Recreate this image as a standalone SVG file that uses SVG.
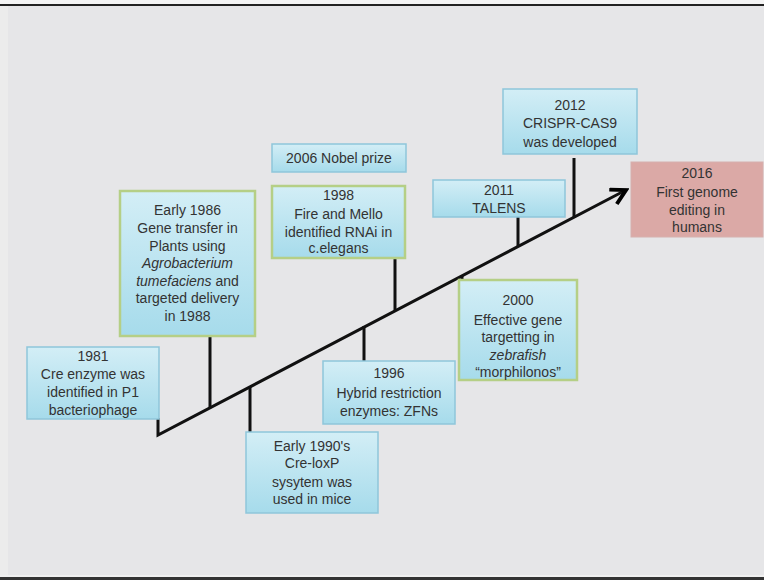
<svg xmlns="http://www.w3.org/2000/svg" width="764" height="580" viewBox="0 0 764 580">
<defs>
<linearGradient id="blue" x1="0" y1="0" x2="0" y2="1">
<stop offset="0" stop-color="#d3eef6"/>
<stop offset="1" stop-color="#a6dbeb"/>
</linearGradient>
<marker id="arr" viewBox="0 0 12 12" refX="10" refY="6" markerWidth="6.5" markerHeight="6.5" orient="auto" markerUnits="strokeWidth">
<path d="M1,1 L10,6 L1,11" fill="none" stroke="#000" stroke-width="2.4" stroke-linejoin="miter"/>
</marker>
</defs>
<style>
.box{fill:url(#blue);stroke:#8fc6da;stroke-width:1.5}
.gbox{fill:url(#blue);stroke:#b5cf86;stroke-width:2.5}
.pbox{fill:#dba9a6;stroke:#d6b0ae;stroke-width:1}
text{font-family:"Liberation Sans",Arial,sans-serif;font-size:14px;fill:#333;text-anchor:middle}
.it{font-style:italic}
.ln{stroke:#111;stroke-width:3;fill:none}
</style>
<rect x="0" y="0" width="764" height="580" fill="#e6e6e8"/>
<rect x="0" y="0" width="764" height="4" fill="#f4f4f4"/>
<rect x="0" y="4" width="764" height="2" fill="#222"/>
<rect x="0" y="6" width="8" height="570" fill="#ececec"/>
<rect x="0" y="575" width="764" height="2" fill="#f0f0f0"/>
<rect x="0" y="577" width="764" height="3" fill="#333"/>

<g id="connectors">
<polyline class="ln" points="158,418 158,435 626,190" marker-end="url(#arr)"/>
<line class="ln" x1="210" y1="336" x2="210" y2="408"/>
<line class="ln" x1="250" y1="387" x2="250" y2="432"/>
<line class="ln" x1="364" y1="326" x2="364" y2="361"/>
<line class="ln" x1="395" y1="258" x2="395" y2="311"/>
<line class="ln" x1="462" y1="276" x2="462" y2="280"/>
<line class="ln" x1="518" y1="217" x2="518" y2="247"/>
<line class="ln" x1="574" y1="158" x2="574" y2="218"/>
</g>

<g id="n1981">
<rect class="box" x="27" y="347" width="132" height="72"/>
<text x="93" y="361">1981</text>
<text x="93" y="379">Cre enzyme was</text>
<text x="93" y="397">identified in P1</text>
<text x="93" y="415">bacteriophage</text>
</g>

<g id="n1986">
<rect class="gbox" x="120" y="191" width="135" height="145"/>
<text x="187.5" y="215">Early 1986</text>
<text x="187.5" y="233">Gene transfer in</text>
<text x="187.5" y="251">Plants using</text>
<text x="187.5" y="268" class="it">Agrobacterium</text>
<text x="187.5" y="286"><tspan class="it">tumefaciens</tspan> and</text>
<text x="187.5" y="303">targeted delivery</text>
<text x="187.5" y="321">in 1988</text>
</g>

<g id="n1990">
<rect class="box" x="246" y="432" width="132" height="81"/>
<text x="312" y="451">Early 1990's</text>
<text x="312" y="468">Cre-loxP</text>
<text x="312" y="487">sysytem was</text>
<text x="312" y="504">used in mice</text>
</g>

<g id="n1996">
<rect class="box" x="323" y="361" width="132" height="63"/>
<text x="389" y="378">1996</text>
<text x="389" y="398">Hybrid restriction</text>
<text x="389" y="416">enzymes: ZFNs</text>
</g>

<g id="n1998">
<rect class="gbox" x="272" y="186" width="133" height="72"/>
<text x="338.5" y="200">1998</text>
<text x="338.5" y="219">Fire and Mello</text>
<text x="338.5" y="237">identified RNAi in</text>
<text x="338.5" y="253">c.elegans</text>
</g>

<g id="n2006">
<rect class="box" x="272" y="144" width="134" height="28"/>
<text x="339" y="163">2006 Nobel prize</text>
</g>

<g id="n2000">
<rect class="gbox" x="459" y="280" width="118" height="100"/>
<text x="518" y="305">2000</text>
<text x="518" y="325">Effective gene</text>
<text x="518" y="342">targetting in</text>
<text x="518" y="360" class="it">zebrafish</text>
<text x="518" y="377">“morphilonos”</text>
</g>

<g id="n2011">
<rect class="box" x="433" y="180" width="132" height="37"/>
<text x="499" y="195">2011</text>
<text x="499" y="213">TALENS</text>
</g>

<g id="n2012">
<rect class="box" x="503" y="89" width="134" height="65"/>
<text x="570" y="110">2012</text>
<text x="570" y="128">CRISPR-CAS9</text>
<text x="570" y="147">was developed</text>
</g>

<g id="n2016">
<rect class="pbox" x="631" y="162" width="132" height="75"/>
<text x="697" y="178">2016</text>
<text x="697" y="197">First genome</text>
<text x="697" y="215">editing in</text>
<text x="697" y="232">humans</text>
</g>
</svg>
